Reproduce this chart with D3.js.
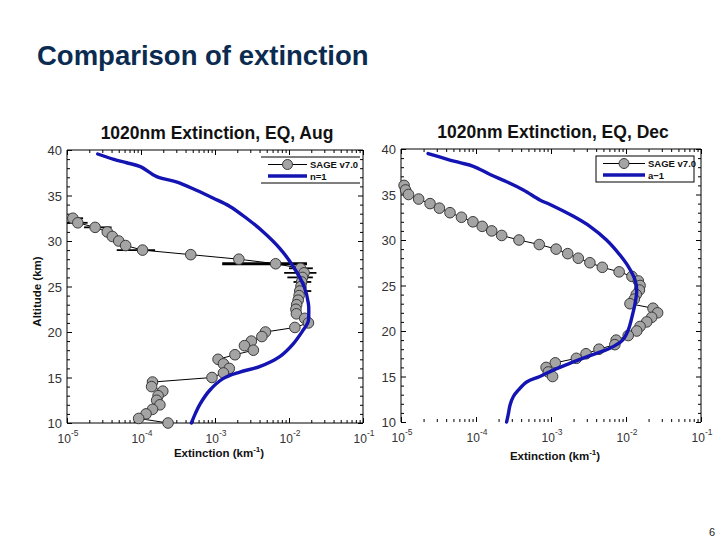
<!DOCTYPE html>
<html><head><meta charset="utf-8">
<script src="https://cdn.jsdelivr.net/npm/d3@7"></script>
<style>body{margin:0;background:#fff}svg{display:block}</style>
</head><body>
<script>
// ---------- data ----------
const xTickValues = [1e-5, 1e-4, 1e-3, 1e-2, 1e-1];
const xTickExps = ["-5", "-4", "-3", "-2", "-1"];
const yTickValues = [10, 15, 20, 25, 30, 35, 40];

const augAlt = [32.5, 32.0, 31.5, 31.0, 30.5, 30.0, 29.5, 29.0, 28.5, 28.0, 27.5, 27.0, 26.5, 26.0, 25.5, 25.0, 24.5, 24.0, 23.5, 23.0, 22.5, 22.0, 21.5, 21.0, 20.5, 20.0, 19.5, 19.0, 18.5, 18.0, 17.5, 17.0, 16.5, 16.0, 15.5, 15.0, 14.5, 14.0, 13.5, 13.0, 12.5, 12.0, 11.5, 11.0, 10.5, 10.0];
const augExt = [1.2e-5, 1.4e-5, 2.4e-5, 3.5e-5, 4.1e-5, 5.0e-5, 6.2e-5, 1.05e-4, 4.7e-4, 2.1e-3, 6.6e-3, 1.43e-2, 1.6e-2, 1.52e-2, 1.48e-2, 1.45e-2, 1.4e-2, 1.37e-2, 1.33e-2, 1.27e-2, 1.24e-2, 1.26e-2, 1.63e-2, 1.83e-2, 1.2e-2, 4.8e-3, 4.3e-3, 3.1e-3, 2.5e-3, 3.3e-3, 1.86e-3, 1.1e-3, 1.3e-3, 1.56e-3, 1.3e-3, 9.1e-4, 1.43e-4, 1.39e-4, 1.97e-4, 1.7e-4, 1.63e-4, 1.8e-4, 1.43e-4, 1.17e-4, 9.3e-5, 2.32e-4];
const augErrAlt = [32.5, 32.0, 31.5, 29.0, 27.5, 27.0, 26.5, 26.0, 25.5, 24.5];
const augErrLo = [1.0e-5, 1.0e-5, 1.7e-5, 4.7e-5, 1.25e-3, 1.0e-2, 8.6e-3, 9.5e-3, 1.15e-2, 1.2e-2];
const augErrHi = [1.65e-5, 1.9e-5, 4.0e-5, 1.55e-4, 1.75e-2, 2.1e-2, 2.35e-2, 2.1e-2, 2.0e-2, 2.0e-2];
const augModAlt = [39.56, 38.97, 38.6, 38.17, 37.07, 36.5, 35.6, 34.7, 33.8, 32.5, 31.0, 29.2, 27.2, 25.0, 23.1, 22.0, 21.1, 20.2, 18.7, 17.3, 16.2, 15.6, 14.9, 13.6, 12.1, 11.0, 10.0];
const augModExt = [2.6e-5, 4.3e-5, 6.4e-5, 9.8e-5, 1.63e-4, 3.0e-4, 5.5e-4, 9.5e-4, 1.59e-3, 2.67e-3, 4.5e-3, 7.5e-3, 1.14e-2, 1.6e-2, 1.83e-2, 1.85e-2, 1.81e-2, 1.55e-2, 1.14e-2, 7.5e-3, 4.0e-3, 2.17e-3, 1.3e-3, 8.5e-4, 6.3e-4, 5.4e-4, 4.8e-4];

const decAlt = [36.0, 35.5, 35.0, 34.5, 34.0, 33.5, 33.0, 32.5, 32.0, 31.5, 31.0, 30.5, 30.0, 29.5, 29.0, 28.5, 28.0, 27.5, 27.0, 26.5, 26.0, 25.5, 25.0, 24.5, 24.0, 23.5, 23.0, 22.5, 22.0, 21.5, 21.0, 20.5, 20.0, 19.5, 19.0, 18.5, 18.0, 17.5, 17.0, 16.5, 16.0, 15.5, 15.0];
const decExt = [1.1e-5, 1.15e-5, 1.26e-5, 1.72e-5, 2.44e-5, 3.25e-5, 4.5e-5, 6.4e-5, 9.1e-5, 1.21e-4, 1.62e-4, 2.2e-4, 3.74e-4, 6.98e-4, 1.17e-3, 1.67e-3, 2.31e-3, 3.3e-3, 4.83e-3, 8.1e-3, 1.2e-2, 1.46e-2, 1.54e-2, 1.51e-2, 1.37e-2, 1.29e-2, 1.13e-2, 2.29e-2, 2.64e-2, 2.2e-2, 1.89e-2, 1.54e-2, 1.39e-2, 1.07e-2, 7.4e-3, 7.1e-3, 4.36e-3, 2.93e-3, 2.18e-3, 1.14e-3, 8.6e-4, 9.2e-4, 1.05e-3];
const decModAlt = [39.5, 38.9, 38.5, 38.1, 37.2, 36.4, 35.5, 34.4, 33.9, 32.6, 31.5, 30.0, 28.35, 27.1, 25.6, 24.5, 23.0, 21.9, 20.1, 19.0, 18.1, 17.3, 16.6, 15.7, 15.0, 14.4, 13.5, 12.8, 11.85, 10.9, 10.0];
const decModExt = [2.3e-5, 4.06e-5, 6.1e-5, 9.2e-5, 1.54e-4, 2.56e-4, 4.28e-4, 7.1e-4, 9.7e-4, 1.99e-3, 3.3e-3, 5.5e-3, 8.3e-3, 1.07e-2, 1.32e-2, 1.39e-2, 1.32e-2, 1.23e-2, 1.07e-2, 9.0e-3, 6.1e-3, 3.3e-3, 1.99e-3, 1.07e-3, 7.1e-4, 4.74e-4, 3.66e-4, 3.15e-4, 2.84e-4, 2.7e-4, 2.56e-4];

const seriesNames = ["SAGE v7.0"];
const augModelName = "n=1";
const decModelName = "a\u22121";

// ---------- drawing ----------
const FONT = "'Liberation Sans', Arial, Helvetica, sans-serif";
const BLUE = "#1414b2";
const svg = d3.select("body").append("svg").attr("width", 720).attr("height", 540)
  .style("font-family", FONT);

svg.append("text").attr("x", 37).attr("y", 65)
  .attr("font-size", 27.5).attr("font-weight", "bold").attr("fill", "#0b2c50")
  .text("Comparison of extinction");
svg.append("text").attr("x", 712).attr("y", 536).attr("text-anchor", "middle")
  .attr("font-size", 11).attr("fill", "#222").text("6");

const minorX = [];
for (let e = -5; e < -1; e++) for (let m = 2; m <= 9; m++) minorX.push(m * Math.pow(10, e));
const minorY = d3.range(10, 41, 1).filter(v => v % 5 !== 0);

function drawPanel(o) {
  const x = d3.scaleLog().domain([1e-5, 1e-1]).range([o.left, o.right]);
  const y = d3.scaleLinear().domain([10, 40]).range([o.bottom, o.top]);
  const g = svg.append("g");

  // frame
  g.append("line").attr("x1", o.left).attr("x2", o.left).attr("y1", o.top).attr("y2", o.bottom).attr("stroke", "#000");
  g.append("line").attr("x1", o.right).attr("x2", o.right).attr("y1", o.top).attr("y2", o.bottom).attr("stroke", "#000");
  g.append("line").attr("x1", o.left).attr("x2", o.right).attr("y1", o.top).attr("y2", o.top).attr("stroke", "#000");
  if (o.bottomLine) g.append("line").attr("x1", o.left).attr("x2", o.right).attr("y1", o.bottom).attr("y2", o.bottom).attr("stroke", "#000");

  const strip = s => s.call(a => a.select(".domain").remove()).call(a => a.selectAll("line").attr("stroke", "#000"));
  // x ticks
  g.append("g").attr("transform", `translate(0,${o.bottom})`).call(d3.axisBottom(x).tickValues(xTickValues).tickSize(-5).tickFormat("")).call(strip);
  g.append("g").attr("transform", `translate(0,${o.bottom})`).call(d3.axisBottom(x).tickValues(minorX).tickSize(-3).tickFormat("")).call(strip);
  g.append("g").attr("transform", `translate(0,${o.top})`).call(d3.axisTop(x).tickValues(xTickValues).tickSize(-5).tickFormat("")).call(strip);
  g.append("g").attr("transform", `translate(0,${o.top})`).call(d3.axisTop(x).tickValues(minorX).tickSize(-3).tickFormat("")).call(strip);
  // y ticks
  g.append("g").attr("transform", `translate(${o.left},0)`).call(d3.axisLeft(y).tickValues(yTickValues).tickSize(-5).tickFormat("")).call(strip);
  g.append("g").attr("transform", `translate(${o.left},0)`).call(d3.axisLeft(y).tickValues(minorY).tickSize(-3).tickFormat("")).call(strip);
  g.append("g").attr("transform", `translate(${o.right},0)`).call(d3.axisRight(y).tickValues(yTickValues).tickSize(-5).tickFormat("")).call(strip);
  g.append("g").attr("transform", `translate(${o.right},0)`).call(d3.axisRight(y).tickValues(minorY).tickSize(-3).tickFormat("")).call(strip);

  // y labels
  g.selectAll(".ylab").data(yTickValues).join("text")
    .attr("x", o.left - 5).attr("y", d => y(d) + 5).attr("text-anchor", "end")
    .attr("font-size", 13).attr("fill", "#333").text(d => d);
  // x labels
  xTickValues.forEach((v, i) => {
    const t = g.append("text").attr("x", x(v) + 1).attr("y", o.labelY).attr("text-anchor", "middle")
      .attr("font-size", 12).attr("fill", "#333");
    t.append("tspan").text("10");
    t.append("tspan").attr("dy", -7).attr("font-size", 8.5).text(xTickExps[i]);
  });

  // panel title
  g.append("text").attr("x", (o.left + o.right) / 2 + 2).attr("y", o.titleY).attr("text-anchor", "middle")
    .attr("font-size", 17.5).attr("font-weight", "bold").attr("fill", "#111").text(o.title);
  // x title
  const xt = g.append("text").attr("x", (o.left + o.right) / 2 + 4).attr("y", o.xTitleY).attr("text-anchor", "middle")
    .attr("font-size", 11.5).attr("font-weight", "bold").attr("fill", "#111");
  xt.append("tspan").text("Extinction (km");
  xt.append("tspan").attr("dy", -5).attr("font-size", 8).text("-1");
  xt.append("tspan").attr("dy", 5).text(")");
  if (o.yTitle) {
    g.append("text").attr("transform", `translate(41,${(o.top + o.bottom) / 2 + 5}) rotate(-90)`)
      .attr("text-anchor", "middle").attr("font-size", 11.5).attr("font-weight", "bold").attr("fill", "#111")
      .text("Altitude (km)");
  }

  // SAGE line
  const pts = o.alt.map((a, i) => [o.ext[i], a]);
  g.append("path").datum(pts).attr("fill", "none").attr("stroke", "#000").attr("stroke-width", 1)
    .attr("d", d3.line().x(d => x(d[0])).y(d => y(d[1])));
  // error bars
  if (o.errAlt) {
    g.selectAll(".err").data(o.errAlt).join("line")
      .attr("x1", (d, i) => x(o.errLo[i])).attr("x2", (d, i) => x(o.errHi[i]))
      .attr("y1", d => y(d)).attr("y2", d => y(d))
      .attr("stroke", "#000").attr("stroke-width", (d, i) => i === 4 ? 3 : 1.8);
  }
  g.selectAll(".pt").data(pts).join("circle")
    .attr("cx", d => x(d[0])).attr("cy", d => y(d[1])).attr("r", 5.3)
    .attr("fill", "#a4a4a4").attr("stroke", "#3a3a3a").attr("stroke-width", 1);

  // model curve
  const mpts = o.modAlt.map((a, i) => [o.modExt[i], a]);
  g.append("path").datum(mpts).attr("fill", "none").attr("stroke", BLUE).attr("stroke-width", 3.4)
    .attr("stroke-linejoin", "round").attr("stroke-linecap", "round")
    .attr("d", d3.line().curve(d3.curveCatmullRom).x(d => x(d[0])).y(d => y(d[1])));

  // legend
  const L = o.legend;
  if (L.box) {
    g.append("rect").attr("x", L.x0).attr("y", L.y0).attr("width", L.x1 - L.x0).attr("height", L.y1 - L.y0)
      .attr("fill", "#fff").attr("stroke", "#000").attr("stroke-width", 1);
  } else {
    g.append("rect").attr("x", L.x0).attr("y", L.y0).attr("width", L.x1 - L.x0).attr("height", L.y1 - L.y0).attr("fill", "#fff");
    [L.y0, L.y1].forEach(yy => g.append("line").attr("x1", L.x0).attr("x2", L.x1).attr("y1", yy).attr("y2", yy).attr("stroke", "#000"));
  }
  g.append("line").attr("x1", L.lx0).attr("x2", L.lx1).attr("y1", L.r1).attr("y2", L.r1).attr("stroke", "#000").attr("stroke-width", 1.2);
  g.append("circle").attr("cx", (L.lx0 + L.lx1) / 2).attr("cy", L.r1).attr("r", 5).attr("fill", "#a4a4a4").attr("stroke", "#3a3a3a");
  g.append("text").attr("x", L.lx1 + 3).attr("y", L.r1 + 3.5).attr("font-size", 9.5).attr("font-weight", "bold").attr("fill", "#111").text(seriesNames[0]);
  g.append("line").attr("x1", L.lx0).attr("x2", L.lx1).attr("y1", L.r2).attr("y2", L.r2).attr("stroke", BLUE).attr("stroke-width", 3.5);
  g.append("text").attr("x", L.lx1 + 3).attr("y", L.r2 + 3.5).attr("font-size", 9.5).attr("font-weight", "bold").attr("fill", "#111").text(o.modelName);
}

drawPanel({
  left: 67, right: 363, top: 150, bottom: 423, labelY: 443, titleY: 139, xTitleY: 457,
  yTitle: true, bottomLine: true, title: "1020nm Extinction, EQ, Aug",
  alt: augAlt, ext: augExt, errAlt: augErrAlt, errLo: augErrLo, errHi: augErrHi,
  modAlt: augModAlt, modExt: augModExt, modelName: augModelName,
  legend: { box: false, x0: 261, x1: 360, y0: 157, y1: 183, lx0: 268, lx1: 307, r1: 164.5, r2: 176 }
});
drawPanel({
  left: 401, right: 701, top: 149, bottom: 422, labelY: 442, titleY: 138, xTitleY: 460,
  yTitle: false, bottomLine: false, title: "1020nm Extinction, EQ, Dec",
  alt: decAlt, ext: decExt,
  modAlt: decModAlt, modExt: decModExt, modelName: decModelName,
  legend: { box: true, x0: 596, x1: 694, y0: 156, y1: 182, lx0: 603, lx1: 645, r1: 163.5, r2: 175 }
});
</script>
</body></html>
